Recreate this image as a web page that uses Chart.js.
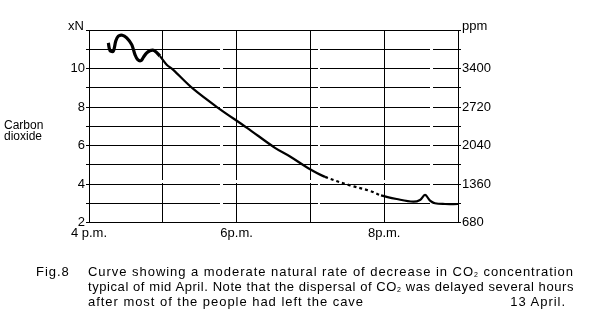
<!DOCTYPE html>
<html>
<head>
<meta charset="utf-8">
<script src="https://cdn.jsdelivr.net/npm/chart.js@4/dist/chart.umd.min.js"></script>
<style>
  html, body { margin: 0; padding: 0; background: #fff; }
  #wrap { position: relative; width: 600px; height: 333px; overflow: hidden;
          font-family: "Liberation Sans", Arial, sans-serif; color: #000; }
  #wrap canvas { position: absolute; left: 0; top: 0; }
  .t { position: absolute; white-space: nowrap; font-size: 12px; line-height: 12px; }
  .cap { position: absolute; white-space: nowrap; font-size: 13px; line-height: 15px; }
  .cap sub { font-size: 7px; vertical-align: -1px; line-height: 0; }
</style>
</head>
<body>
<div id="wrap">
  <canvas id="c" width="600" height="333"></canvas>
  <div class="t" style="left:68px; top:20px; font-size:13px;">xN</div>
  <div class="t" style="left:462px; top:20px; font-size:13px;">ppm</div>
  <div class="t" style="left:4px; top:120px; line-height:11px;">Carbon<br>dioxide</div>

  <div class="cap spread" style="left:36px; top:264px;">Fig.8</div>
  <div class="cap" id="line1" data-w="486" style="left:88px; top:264px;"><span>Curve showing a moderate natural rate of decrease in CO<sub>2</sub> concentration</span></div>
  <div class="cap" id="line2" data-w="486" style="left:88px; top:279px;"><span>typical of mid April. Note that the dispersal of CO<sub>2</sub> was delayed several hours</span></div>
  <div class="cap spread" style="left:88px; top:294px;">after most of the people had left the cave</div>
  <div class="cap spread" style="right:34px; top:294px;">13 April.</div>
</div>
<script>
// Time of day in hours (16 = 4 p.m.) and CO2 level in units of N
const hours = [
  16.262, 16.285, 16.329, 16.362, 16.397, 16.451, 16.511, 16.579, 16.623, 16.660,
  16.705, 16.736, 16.782, 16.827, 16.885, 16.962, 17.053, 17.138, 17.409, 17.748,
  18.141, 18.520, 18.724, 18.972, 19.198, 19.537, 19.808, 19.957, 20.169, 20.394,
  20.485, 20.553, 20.621, 20.688, 20.824, 21.000
];
const co2N = [
  11.33, 10.93, 10.90, 11.42, 11.68, 11.73, 11.59, 11.24, 10.72, 10.46,
  10.41, 10.58, 10.81, 10.93, 10.93, 10.64, 10.20, 9.94, 8.95, 7.96,
  6.92, 5.88, 5.43, 4.82, 4.37, 3.93, 3.64, 3.41, 3.22, 3.08,
  3.17, 3.43, 3.14, 3.00, 2.96, 2.96
];
// Axis labelling
const leftTicks = [2, 4, 6, 8, 10];
const ppmTicks = [680, 1360, 2040, 2720, 3400];
const timeTicks = [16, 18, 20];
const timeLabels = ['4 p.m.', '6p.m.', '8p.m.'];
const PPM_PER_N = 340;

// Dotted stretch of the trace (hours)
const DOTTED_FROM = 19.19, DOTTED_TO = 19.96;
const WIGGLE_END = 17.0;

const points = hours.map((h, i) => ({ x: h, y: co2N[i] }));
const tickFont = { family: '"Liberation Sans", Arial, sans-serif', size: 13 };

new Chart(document.getElementById('c'), {
  type: 'line',
  data: {
    datasets: [{
      data: points,
      borderColor: '#000',
      borderWidth: 2.2,
      pointRadius: 0,
      tension: 0.35,
      fill: false,
      segment: {
        borderWidth: ctx => ctx.p1.parsed.x <= WIGGLE_END ? 3.2 : 2.2,
        borderDash: ctx => (ctx.p0.parsed.x >= DOTTED_FROM && ctx.p1.parsed.x <= DOTTED_TO) ? [3, 3] : undefined
      }
    }]
  },
  options: {
    responsive: false,
    animation: false,
    layout: { padding: { top: 30, left: 0, right: 0, bottom: 0 } },
    plugins: { legend: { display: false }, tooltip: { enabled: false } },
    scales: {
      x: {
        type: 'linear', position: 'bottom', min: 16, max: 21,
        afterFit: s => { s.height = 110.5; },
        ticks: {
          stepSize: 1, color: '#000', font: tickFont, padding: 3, maxRotation: 0, autoSkip: false,
          callback: v => { const i = timeTicks.indexOf(v); return i >= 0 ? timeLabels[i] : ''; }
        },
        grid: { color: '#000', lineWidth: 1, drawTicks: false },
        border: { display: true, color: '#000', width: 1, dash: [150, 3, 70, 2] }
      },
      xTop: {
        type: 'linear', position: 'top', min: 16, max: 21,
        afterFit: s => { s.height = 0; },
        ticks: { display: false },
        grid: { drawOnChartArea: false, drawTicks: false },
        border: { display: true, color: '#000', width: 1 }
      },
      y: {
        type: 'linear', position: 'left', min: 2, max: 12,
        afterFit: s => { s.width = 89; },
        ticks: {
          stepSize: 1, color: '#000', font: tickFont, padding: 1, autoSkip: false,
          callback: v => leftTicks.includes(v) ? String(v) : ''
        },
        grid: { color: '#000', lineWidth: 1, tickLength: 3 },
        border: { display: true, color: '#000', width: 1, dash: [130, 3, 95, 2, 110, 3] }
      },
      y2: {
        type: 'linear', position: 'right', min: 2 * PPM_PER_N, max: 12 * PPM_PER_N,
        afterFit: s => { s.width = 142; },
        ticks: {
          stepSize: PPM_PER_N, color: '#000', font: tickFont, padding: 1, autoSkip: false,
          callback: v => ppmTicks.includes(Math.round(v)) ? String(Math.round(v)) : ''
        },
        grid: { drawOnChartArea: false, color: '#000', tickLength: 3 },
        border: { display: true, color: '#000', width: 1 }
      }
    }
  }
});

// Stretch the caption lettering so the first two lines fill the column width
let spacing = 0;
['line1', 'line2'].forEach(id => {
  const el = document.getElementById(id);
  const span = el.querySelector('span');
  const target = +el.dataset.w;
  const w = span.getBoundingClientRect().width;
  const n = span.textContent.length;
  const ls = (target - w) / n;
  span.style.letterSpacing = ls + 'px';
  if (id === 'line1') spacing = ls;
});
document.querySelectorAll('.spread').forEach(el => { el.style.letterSpacing = spacing + 'px'; });
</script>
</body>
</html>
